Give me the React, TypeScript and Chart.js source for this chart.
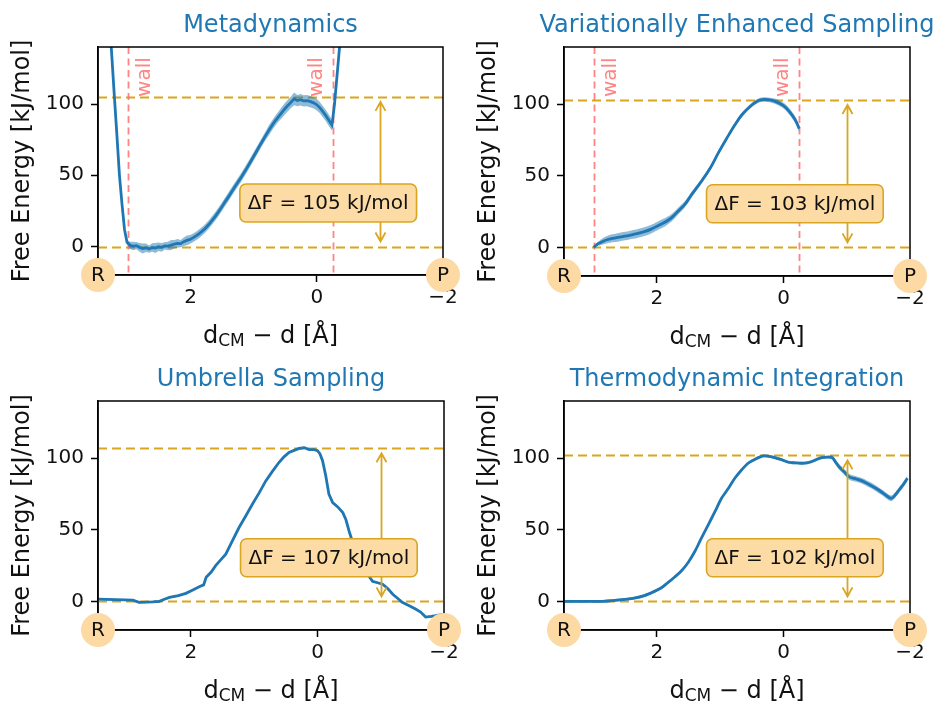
import React, { useEffect, useRef } from 'react';
import { Chart, registerables } from 'chart.js';

Chart.register(...registerables);

// ---------------- data ----------------
const TITLES = ['Metadynamics', 'Variationally Enhanced Sampling', 'Umbrella Sampling', 'Thermodynamic Integration'];
const DELTA_F = [105, 103, 107, 102];
const WALLS = [3.0, -0.25];
const X_TICKS = [2, 0, -2];
const Y_TICKS = [0, 50, 100];
const X_MIN = -2.0;
const X_MAX = 3.47;
const Y_MIN = -20;
const Y_MAX = 140;
const ARROW_X = -1.0;
const BOX_X = -0.18;
const BOX_Y = 30.5;
const WALL_TEXT_Y = 105;

const MTD_X = [3.47, 3.40, 3.33, 3.26, 3.21, 3.17, 3.13, 3.09, 3.05, 3.01,
  2.96, 2.91, 2.86, 2.81, 2.76, 2.71, 2.66, 2.61, 2.56, 2.51,
  2.46, 2.41, 2.36, 2.31, 2.26, 2.21, 2.16, 2.11, 2.06, 2.01,
  1.96, 1.91, 1.86, 1.81, 1.76, 1.71, 1.66, 1.61, 1.56, 1.51,
  1.46, 1.41, 1.36, 1.31, 1.26, 1.21, 1.16, 1.11, 1.06, 1.01,
  0.96, 0.91, 0.86, 0.81, 0.76, 0.71, 0.66, 0.61, 0.56, 0.51,
  0.46, 0.41, 0.36, 0.31, 0.26, 0.21, 0.16, 0.11, 0.06, 0.01,
  -0.04, -0.09, -0.14, -0.19, -0.24, -0.28, -0.32, -0.36, -0.42, -0.50];
const MTD_Y = [300, 230, 180, 140, 105, 78, 50, 30, 12, 3,
  0.8, 0.3, 0.6, -0.6, -1.4, -0.9, -1.8, -0.7, -1.1, -0.2,
  -0.6, 0.4, 0.3, 1.0, 1.6, 2.2, 2.0, 3.4, 4.3, 5.0,
  6.2, 7.6, 9.2, 11.0, 13.2, 15.6, 18.4, 21.2, 24.3, 27.5,
  31.0, 34.3, 37.8, 41.2, 44.6, 47.8, 51.4, 55.0, 58.8, 62.6,
  66.5, 70.4, 74.2, 78.0, 81.6, 85.0, 88.2, 91.0, 93.8, 96.5,
  99.0, 101.2, 103.6, 102.4, 103.0, 102.2, 102.4, 101.8, 101.0, 99.8,
  97.8, 95.0, 92.0, 88.6, 85.2, 100, 120, 140, 170, 220];
const MTD_ERR = [1.5, 1.5, 1.5, 1.5, 1.5, 1.5, 1.5, 1.5, 1.5, 1.5,
  2.5, 3, 2.5, 3, 3.5, 3, 2.5, 3, 3.5, 3,
  3, 2.5, 3, 3.5, 3, 3, 2.5, 3, 3.5, 3,
  3, 3, 3, 3, 3, 3, 3, 3, 3, 3,
  3, 3, 3, 3, 3, 3, 3, 3, 3, 3,
  3, 3, 3, 3, 3.5, 3.5, 3.5, 3.5, 4, 4,
  4, 4, 4.5, 4, 4, 4, 4, 4, 4, 4,
  4, 4, 4, 4, 4, 3, 2, 1.5, 1.5, 1.5];

const VES_X = [3.00, 2.95, 2.90, 2.85, 2.78, 2.70, 2.60, 2.50, 2.40, 2.30,
  2.20, 2.10, 2.00, 1.90, 1.83, 1.75, 1.65, 1.56, 1.45, 1.30,
  1.15, 1.03, 0.90, 0.77, 0.65, 0.50, 0.40, 0.34, 0.25, 0.13,
  0.00, -0.09, -0.18, -0.25];
const VES_Y = [0, 2.0, 3.2, 4.3, 5.5, 6.3, 7.1, 7.9, 8.8, 9.8,
  11.0, 12.6, 14.8, 17.0, 18.8, 21.5, 26, 30, 37, 46,
  56, 66, 76, 85.5, 93, 99.5, 102.5, 103.3, 103.2, 102,
  99, 95, 89.5, 83];
const VES_ERR = [0.5, 1.2, 1.8, 2.2, 2.6, 2.8, 3.0, 3.0, 3.0, 3.0,
  3.0, 3.0, 3.0, 3.0, 2.8, 2.6, 2.4, 2.2, 2.0, 1.8,
  1.6, 1.5, 1.5, 1.5, 1.5, 1.5, 1.5, 1.5, 1.6, 1.8,
  2.0, 2.2, 2.3, 2.4];

const US_X = [3.47, 3.20, 2.92, 2.82, 2.70, 2.60, 2.50, 2.42, 2.34, 2.20,
  2.08, 1.97, 1.87, 1.80, 1.76, 1.68, 1.61, 1.53, 1.45, 1.35,
  1.24, 1.13, 1.03, 0.92, 0.82, 0.71, 0.61, 0.53, 0.45, 0.37,
  0.29, 0.21, 0.13, 0.05, 0.00, -0.04, -0.08, -0.13, -0.18, -0.24,
  -0.32, -0.40, -0.45, -0.50, -0.55, -0.61, -0.68, -0.76, -0.87, -0.95,
  -1.03, -1.11, -1.19, -1.27, -1.34, -1.45, -1.55, -1.63, -1.71, -1.80,
  -1.87, -1.98];
const US_Y = [1.6, 1.2, 0.9, -0.7, -0.5, -0.3, 0, 1.5, 2.8, 4.0,
  5.6, 8.0, 10.2, 11.5, 16.8, 20.5, 25, 29, 33, 42,
  51.6, 60, 67.9, 76, 84, 91, 97, 101, 104, 105.5,
  106.9, 107.3, 106, 106, 105.3, 103, 98.3, 88, 75, 69,
  66, 62, 57, 49, 42, 35, 28, 21, 14, 13,
  12, 9, 5, 2, -0.7, -3, -5.3, -7.5, -11, -10.5,
  -10, -9];
const US_ERR = US_X.map(() => 0.7);

const TI_X = [3.47, 3.20, 2.89, 2.63, 2.36, 2.20, 2.04, 1.93, 1.83, 1.72,
  1.62, 1.51, 1.40, 1.30, 1.19, 1.08, 0.98, 0.87, 0.77, 0.66,
  0.56, 0.44, 0.32, 0.23, 0.14, 0.03, -0.08, -0.18, -0.29, -0.37,
  -0.45, -0.53, -0.61, -0.69, -0.77, -0.82, -0.88, -0.96, -1.04, -1.15,
  -1.25, -1.36, -1.46, -1.58, -1.70, -1.77, -1.83, -1.90, -1.96];
const TI_Y = [0, 0, 0, 0.9, 2.3, 4.0, 7, 9.5, 13, 17,
  21, 27, 35, 44, 53.5, 63, 72, 79, 86, 92,
  96.5, 99.5, 101.6, 101.3, 100.5, 99, 97.2, 96.8, 96.5, 96.8,
  97.7, 99.3, 100.5, 100.8, 100.5, 97.5, 94, 90.5, 87, 85.5,
  84, 81.5, 79, 75.5, 72, 74.5, 78, 82, 86];
const TI_ERR = [1, 1, 1, 1, 1, 1, 1, 1, 1, 1,
  1, 1, 1, 1, 1, 1, 1, 1, 1, 1,
  1, 1, 1, 1, 1, 1, 1, 1, 1, 1,
  1, 1, 1, 1, 1.5, 1.8, 2, 2, 2, 2,
  2, 2, 2, 2, 2, 2, 2, 2, 2];

// ---------------- style ----------------
const FONT = "'DejaVu Sans', 'Liberation Sans', sans-serif";
const BLUE = '#1f77b4';
const BAND = 'rgba(31,119,180,0.5)';
const GOLD = '#daa520';
const WALL_RED = 'rgba(255,110,110,0.85)';
const BOX_FILL = '#fddba5';
const CIRCLE_FILL = '#fdd9a4';

type PanelDef = {
  title: string; xs: number[]; ys: number[]; err: number[]; dF: number; walls: boolean; tension: number;
  left: number; top: number; w: number; h: number; pl: number; pt: number; pr: number; pb: number;
};

const PANELS: PanelDef[] = [
  { title: TITLES[0], xs: MTD_X, ys: MTD_Y, err: MTD_ERR, dF: DELTA_F[0], walls: true, tension: 0,
    left: 0, top: 0, w: 469, h: 350, pl: 98, pt: 47, pr: 443, pb: 275 },
  { title: TITLES[1], xs: VES_X, ys: VES_Y, err: VES_ERR, dF: DELTA_F[1], walls: true, tension: 0.4,
    left: 469, top: 0, w: 469, h: 350, pl: 95, pt: 47, pr: 441, pb: 276 },
  { title: TITLES[2], xs: US_X, ys: US_Y, err: US_ERR, dF: DELTA_F[2], walls: false, tension: 0,
    left: 0, top: 350, w: 469, h: 351, pl: 98, pt: 51, pr: 444, pb: 280 },
  { title: TITLES[3], xs: TI_X, ys: TI_Y, err: TI_ERR, dF: DELTA_F[3], walls: false, tension: 0.3,
    left: 469, top: 350, w: 469, h: 351, pl: 95, pt: 51, pr: 441, pb: 280 },
];

const fmtTick = (v: number) => (v < 0 ? '\u2212' + Math.abs(v) : String(v));

function makeDecor(p: PanelDef) {
  return {
    id: 'decor',
    beforeDatasetsDraw(chart: any) {
      const { ctx, chartArea: a, scales } = chart;
      const x = scales.x, y = scales.y;
      ctx.save();
      ctx.beginPath();
      ctx.rect(a.left, a.top, a.right - a.left, a.bottom - a.top);
      ctx.clip();
      // gold dashed reference lines
      ctx.strokeStyle = GOLD;
      ctx.lineWidth = 2;
      ctx.setLineDash([9, 5]);
      [p.dF, 0].forEach((v) => {
        const py = Math.round(y.getPixelForValue(v)) + 0.5;
        ctx.beginPath();
        ctx.moveTo(a.left, py);
        ctx.lineTo(a.right, py);
        ctx.stroke();
      });
      if (p.walls) {
        ctx.strokeStyle = WALL_RED;
        ctx.lineWidth = 1.8;
        ctx.setLineDash([7, 4.5]);
        WALLS.forEach((w, i) => {
          const px = Math.round(x.getPixelForValue(w)) + 0.5;
          ctx.beginPath();
          ctx.moveTo(px, a.top);
          ctx.lineTo(px, a.bottom);
          ctx.stroke();
          const tx = i === 0 ? px + 16 : px - 17;
          ctx.save();
          ctx.translate(tx, y.getPixelForValue(WALL_TEXT_Y));
          ctx.rotate(-Math.PI / 2);
          ctx.fillStyle = WALL_RED;
          ctx.font = `20px ${FONT}`;
          ctx.textAlign = 'left';
          ctx.textBaseline = 'middle';
          ctx.fillText('wall', 0, 0);
          ctx.restore();
        });
      }
      ctx.restore();
    },
    afterDatasetsDraw(chart: any) {
      const { ctx, chartArea: a, scales } = chart;
      const x = scales.x, y = scales.y;
      ctx.save();
      // frame
      ctx.strokeStyle = '#000';
      ctx.lineWidth = 1.5;
      ctx.setLineDash([]);
      ctx.strokeRect(a.left, a.top, a.right - a.left, a.bottom - a.top);
      // arrow
      const ax = Math.round(x.getPixelForValue(ARROW_X)) + 0.5;
      const yt = y.getPixelForValue(p.dF) + 5;
      const yb = y.getPixelForValue(0) - 5;
      ctx.strokeStyle = GOLD;
      ctx.lineWidth = 1.8;
      ctx.beginPath();
      ctx.moveTo(ax, yt);
      ctx.lineTo(ax, yb);
      ctx.moveTo(ax - 5, yt + 9);
      ctx.lineTo(ax, yt);
      ctx.lineTo(ax + 5, yt + 9);
      ctx.moveTo(ax - 5, yb - 9);
      ctx.lineTo(ax, yb);
      ctx.lineTo(ax + 5, yb - 9);
      ctx.stroke();
      // annotation box
      const label = `\u0394F = ${p.dF} kJ/mol`;
      ctx.font = `20px ${FONT}`;
      const tw = ctx.measureText(label).width;
      const bw = tw + 16, bh = 38;
      const cx = x.getPixelForValue(BOX_X), cy = y.getPixelForValue(BOX_Y);
      ctx.beginPath();
      (ctx as any).roundRect(cx - bw / 2, cy - bh / 2, bw, bh, 6);
      ctx.fillStyle = BOX_FILL;
      ctx.fill();
      ctx.strokeStyle = GOLD;
      ctx.lineWidth = 1.6;
      ctx.stroke();
      ctx.fillStyle = '#111';
      ctx.textAlign = 'center';
      ctx.textBaseline = 'middle';
      ctx.fillText(label, cx, cy + 1);
      // R / P circles
      [['R', a.left], ['P', a.right]].forEach(([t, px]: any) => {
        ctx.beginPath();
        ctx.arc(px, a.bottom, 17, 0, Math.PI * 2);
        ctx.fillStyle = CIRCLE_FILL;
        ctx.fill();
        ctx.fillStyle = '#111';
        ctx.font = `20px ${FONT}`;
        ctx.textAlign = 'center';
        ctx.textBaseline = 'middle';
        ctx.fillText(t, px, a.bottom + 1);
      });
      ctx.restore();
    },
    afterDraw(chart: any) {
      const { ctx, chartArea: a } = chart;
      ctx.save();
      const mid = (a.left + a.right) / 2;
      // title
      ctx.fillStyle = BLUE;
      ctx.font = `24px ${FONT}`;
      ctx.textAlign = 'center';
      ctx.textBaseline = 'alphabetic';
      ctx.fillText(p.title, mid, a.top - 15);
      // y label
      ctx.fillStyle = '#111';
      ctx.save();
      ctx.translate(a.left - 75, (a.top + a.bottom) / 2);
      ctx.rotate(-Math.PI / 2);
      ctx.textAlign = 'center';
      ctx.textBaseline = 'middle';
      ctx.font = `24px ${FONT}`;
      ctx.fillText('Free Energy [kJ/mol]', 0, 0);
      ctx.restore();
      // x label with subscript
      const main1 = 'd', sub = 'CM', main2 = ' \u2212 d [\u00c5]';
      ctx.font = `24px ${FONT}`;
      const w1 = ctx.measureText(main1).width;
      const w3 = ctx.measureText(main2).width;
      ctx.font = `17px ${FONT}`;
      const w2 = ctx.measureText(sub).width;
      const total = w1 + w2 + w3;
      let sx = mid - total / 2;
      const base = a.bottom + 68;
      ctx.textAlign = 'left';
      ctx.textBaseline = 'alphabetic';
      ctx.font = `24px ${FONT}`;
      ctx.fillText(main1, sx, base);
      sx += w1;
      ctx.font = `17px ${FONT}`;
      ctx.fillText(sub, sx, base + 3);
      sx += w2;
      ctx.font = `24px ${FONT}`;
      ctx.fillText(main2, sx, base);
      ctx.restore();
    },
  };
}

function Panel({ p }: { p: PanelDef }) {
  const ref = useRef<HTMLCanvasElement>(null);
  useEffect(() => {
    const canvas = ref.current!;
    const pts = (arr: number[]) => p.xs.map((xv, i) => ({ x: xv, y: arr[i] }));
    const hi = p.ys.map((v, i) => v + p.err[i]);
    const lo = p.ys.map((v, i) => v - p.err[i]);
    const tickFont = { family: FONT, size: 20 };
    const chart = new Chart(canvas, {
      type: 'line',
      data: {
        datasets: [
          { data: pts(hi), borderWidth: 0, borderColor: 'rgba(0,0,0,0)', pointRadius: 0, fill: false, tension: p.tension },
          { data: pts(lo), borderWidth: 0, borderColor: 'rgba(0,0,0,0)', pointRadius: 0, fill: '-1', backgroundColor: BAND, tension: p.tension },
          { data: pts(p.ys), borderColor: BLUE, borderWidth: 2.8, pointRadius: 0, fill: false, tension: p.tension },
        ],
      } as any,
      options: {
        animation: false,
        responsive: false,
        maintainAspectRatio: false,
        events: [],
        layout: { padding: { left: 0, top: p.pt, right: p.w - p.pr, bottom: 0 } },
        plugins: { legend: { display: false }, tooltip: { enabled: false }, title: { display: false } },
        scales: {
          x: {
            type: 'linear', min: X_MIN, max: X_MAX, reverse: true,
            afterBuildTicks: (s: any) => { s.ticks = X_TICKS.map((v) => ({ value: v })); },
            afterFit: (s: any) => { s.height = p.h - p.pb; },
            ticks: { font: tickFont, color: '#111', padding: 4, maxRotation: 0, callback: (v: any) => fmtTick(Number(v)) },
            grid: { drawOnChartArea: false, drawTicks: true, tickLength: 7, tickWidth: 1.5, tickColor: '#000' },
            border: { display: true, color: '#000', width: 1.5 },
          },
          y: {
            type: 'linear', min: Y_MIN, max: Y_MAX,
            afterBuildTicks: (s: any) => { s.ticks = Y_TICKS.map((v) => ({ value: v })); },
            afterFit: (s: any) => { s.width = p.pl; },
            ticks: { font: tickFont, color: '#111', padding: 7, callback: (v: any) => fmtTick(Number(v)) },
            grid: { drawOnChartArea: false, drawTicks: true, tickLength: 7, tickWidth: 1.5, tickColor: '#000' },
            border: { display: true, color: '#000', width: 1.5 },
          },
        },
      } as any,
      plugins: [makeDecor(p)],
    });
    return () => chart.destroy();
  }, []);
  return (
    <canvas ref={ref} width={p.w} height={p.h}
      style={{ position: 'absolute', left: p.left, top: p.top, width: p.w, height: p.h }} />
  );
}

export default function App() {
  return (
    <div style={{ position: 'absolute', left: 0, top: 0, width: 938, height: 701, background: '#fff', overflow: 'hidden' }}>
      {PANELS.map((p, i) => <Panel key={i} p={p} />)}
    </div>
  );
}
